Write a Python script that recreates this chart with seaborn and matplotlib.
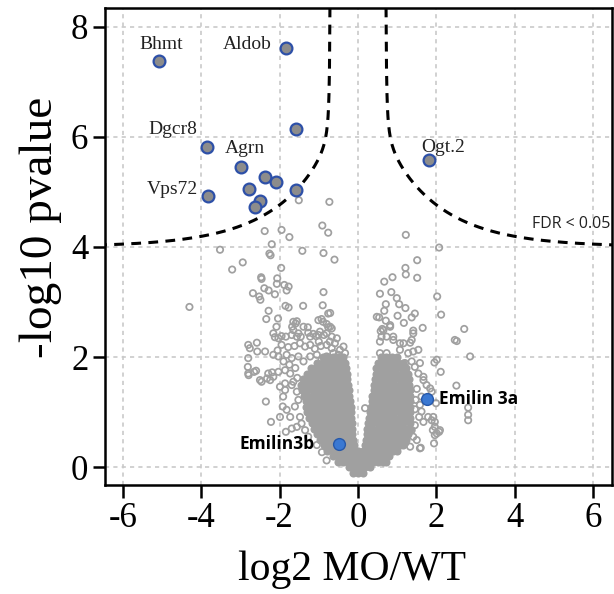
import numpy as np
import pandas as pd
import matplotlib
matplotlib.use("Agg")
import matplotlib.pyplot as plt
import seaborn as sns

# ---------------- data ----------------
# highlighted genes (gray fill, blue edge)
sig_x = [-5.07, -1.84, -1.59, -3.86, -2.98, -2.38, -2.10, -2.79, -1.59, -3.83, -2.49, -2.62, 1.82]
sig_y = [7.39, 7.61, 6.14, 5.81, 5.45, 5.28, 5.19, 5.06, 5.04, 4.93, 4.84, 4.73, 5.59]

# gene labels: text, x, y, horizontal alignment
gene_labels = ["Bhmt", "Aldob", "Dgcr8", "Agrn", "Vps72", "Ogt.2"]
gene_lab_x = [-5.03, -2.19, -4.11, -3.39, -4.08, 1.61]
gene_lab_y = [7.60, 7.60, 6.05, 5.71, 4.96, 5.72]
gene_lab_ha = ["center", "right", "right", "left", "right", "left"]

# Emilin genes (solid blue)
emilin_names = ["Emilin3b", "Emilin 3a"]
emilin_x = [-0.48, 1.76]
emilin_y = [0.42, 1.23]
emilin_lab_x = [-1.10, 2.07]
emilin_lab_y = [0.33, 1.14]
emilin_lab_ha = ["right", "left"]

# dense core of the volcano: rows of y with the x positions in each row
core_rows_y = [-0.1, 0.0, 0.1, 0.2, 0.3, 0.4, 0.5, 0.6, 0.7, 0.8, 0.9, 1.0, 1.1,
               1.2, 1.3, 1.4, 1.5, 1.6, 1.7, 1.8, 1.9, 2.0]
core_rows_x = [
    [-0.13, 0.0, 0.13],
    [-0.22, -0.09, 0.04, 0.17, 0.3],
    [-0.52, -0.39, -0.26, -0.13, 0.0, 0.13, 0.26, 0.39, 0.52, 0.65, 0.72],
    [-0.65, -0.52, -0.39, -0.26, -0.13, 0.0, 0.13, 0.26, 0.39, 0.52, 0.65, 0.8],
    [-0.78, -0.65, -0.52, -0.39, -0.26, -0.13, 0.0, 0.13, 0.26, 0.39, 0.52, 0.65, 0.78, 0.9, 1.0],
    [-0.87, -0.74, -0.61, -0.48, -0.35, -0.22, -0.1, 0.18, 0.31, 0.44, 0.57, 0.7, 0.83, 0.96, 1.08, 1.15],
    [-0.96, -0.83, -0.7, -0.57, -0.44, -0.31, -0.18, -0.12, 0.2, 0.33, 0.46, 0.59, 0.72, 0.85, 0.98, 1.1, 1.22],
    [-1.05, -0.92, -0.79, -0.66, -0.53, -0.4, -0.27, -0.15, 0.22, 0.35, 0.48, 0.61, 0.74, 0.87, 1.0, 1.13, 1.28],
    [-1.12, -0.99, -0.86, -0.73, -0.6, -0.47, -0.34, -0.21, -0.15, 0.24, 0.37, 0.5, 0.63, 0.76, 0.89, 1.02, 1.15, 1.25, 1.32],
    [-1.18, -1.05, -0.92, -0.79, -0.66, -0.53, -0.4, -0.27, -0.16, 0.25, 0.38, 0.51, 0.64, 0.77, 0.9, 1.03, 1.16, 1.32],
    [-1.24, -1.11, -0.98, -0.85, -0.72, -0.59, -0.46, -0.33, -0.2, -0.17, 0.28, 0.41, 0.54, 0.67, 0.8, 0.93, 1.06, 1.19, 1.32],
    [-1.3, -1.17, -1.04, -0.91, -0.78, -0.65, -0.52, -0.39, -0.26, -0.18, 0.3, 0.43, 0.56, 0.69, 0.82, 0.95, 1.08, 1.21, 1.32],
    [-1.32, -1.23, -1.1, -0.97, -0.84, -0.71, -0.58, -0.45, -0.32, -0.19, 0.32, 0.45, 0.58, 0.71, 0.84, 0.97, 1.1, 1.23, 1.32],
    [-1.32, -1.27, -1.14, -1.01, -0.88, -0.75, -0.62, -0.49, -0.36, -0.23, -0.2, 0.35, 0.48, 0.61, 0.74, 0.87, 1.0, 1.13, 1.26, 1.32],
    [-1.38, -1.29, -1.16, -1.03, -0.9, -0.77, -0.64, -0.51, -0.38, -0.25, -0.22, 0.37, 0.5, 0.63, 0.76, 0.89, 1.02, 1.15, 1.28, 1.32],
    [-1.44, -1.31, -1.18, -1.05, -0.92, -0.79, -0.66, -0.53, -0.4, -0.27, -0.24, 0.4, 0.53, 0.66, 0.79, 0.92, 1.05, 1.18, 1.32],
    [-1.45, -1.32, -1.19, -1.06, -0.93, -0.8, -0.67, -0.54, -0.41, -0.28, -0.26, 0.41, 0.54, 0.67, 0.8, 0.93, 1.06, 1.19, 1.3],
    [-1.4, -1.27, -1.14, -1.01, -0.88, -0.75, -0.62, -0.49, -0.36, -0.28, 0.43, 0.56, 0.69, 0.82, 0.95, 1.08, 1.21, 1.3],
    [-1.3, -1.17, -1.04, -0.91, -0.78, -0.65, -0.52, -0.39, -0.29, 0.45, 0.58, 0.71, 0.84, 0.97, 1.1, 1.2, 1.28],
    [-1.2, -1.07, -0.94, -0.81, -0.68, -0.55, -0.42, -0.3, 0.46, 0.59, 0.72, 0.85, 0.98, 1.11, 1.22],
    [-1.05, -0.92, -0.79, -0.66, -0.53, -0.4, -0.33, 0.5, 0.63, 0.76, 0.89, 1.02, 1.15],
    [-0.9, -0.77, -0.64, -0.51, -0.38, 0.58, 0.72, 0.86, 1.0],
]

# individual (non-overlapping) gray points
ring_pts = [
    (-2.38, 4.29), (-1.95, 4.31), (-1.75, 4.18), (-1.51, 4.85), (-0.73, 4.82), (-0.91, 4.39), (-0.76, 4.26),
    (-2.20, 4.05), (-3.52, 3.95), (-1.42, 3.93), (-2.26, 3.88), (-2.23, 3.85), (-0.88, 3.89), (-0.60, 3.77),
    (-2.94, 3.72), (-3.21, 3.59), (-1.96, 3.62), (-2.47, 3.45), (-2.46, 3.42), (-2.06, 3.43), (-2.07, 3.33),
    (-1.88, 3.31), (-1.77, 3.28), (-2.39, 3.25), (-2.28, 3.21), (-1.82, 3.21), (-2.68, 3.16), (-2.52, 3.10),
    (-2.49, 3.04), (-2.12, 3.14), (-0.88, 3.18), (-4.30, 2.91), (-1.85, 2.93), (-1.77, 2.90), (-1.40, 2.93),
    (-0.90, 2.94), (-2.28, 2.84), (-0.76, 2.79), (-2.34, 2.69), (-2.04, 2.70), (-1.65, 2.64), (-1.59, 2.61),
    (-1.56, 2.65), (-1.68, 2.55), (-2.08, 2.55), (-1.28, 2.54), (-1.01, 2.67), (-0.93, 2.69), (-0.89, 2.64),
    (-0.80, 2.60), (-0.76, 2.54), (-0.71, 2.80), (-0.71, 2.55),
    (-2.12, 2.36), (-2.03, 2.34), (-1.95, 2.38), (-1.84, 2.37), (-1.69, 2.40), (-1.56, 2.37), (-1.46, 2.37),
    (-1.22, 2.37), (-1.14, 2.42), (-1.07, 2.38), (-1.01, 2.40), (-0.87, 2.40), (-0.67, 2.37),
    (-1.52, 2.43), (-1.39, 2.55), (-0.97, 2.46), (-0.80, 2.43), (-0.67, 2.52), (-0.54, 2.34), (-0.37, 2.19),
    (-1.27, 2.44), (-2.16, 2.43), (-1.65, 2.49),
    (-1.48, 2.25), (-1.35, 2.19), (-1.22, 2.22), (-0.80, 2.22), (-0.67, 2.16), (-0.59, 2.25), (-0.46, 2.13),
    (-0.33, 2.07),
    (-2.16, 2.04), (-2.03, 2.01), (-1.82, 2.04), (-1.69, 1.98), (-1.52, 2.01), (-1.39, 1.92), (-1.22, 2.01),
    (-1.05, 2.04), (-0.93, 1.95), (-0.80, 2.01), (-0.63, 2.07), (-0.50, 2.04), (-0.38, 1.95),
    (-1.95, 2.22), (-1.78, 2.18), (-1.62, 2.20), (-2.05, 2.12), (-1.90, 1.92), (-1.75, 1.86), (-1.60, 1.80),
    (-1.55, 1.62), (-1.65, 1.55), (-1.10, 2.15), (-0.95, 2.20), (-1.00, 2.28), (-0.72, 2.28),
    (-2.58, 2.26), (-2.37, 2.10), (-2.80, 2.22), (-2.76, 2.16), (-2.80, 1.98), (-2.81, 1.82), (-2.79, 1.67),
    (-2.60, 1.75), (-2.46, 1.55), (-2.35, 1.19), (-2.22, 0.82), (-1.99, 0.91), (-1.84, 0.64), (-2.57, 2.10),
    (-2.65, 1.73), (-2.80, 1.70), (-1.69, 0.70), (-1.56, 0.73), (-1.92, 1.10), (-1.82, 1.04), (-1.73, 0.91),
    (-2.24, 1.58), (-2.16, 1.64), (-2.29, 1.70), (-1.99, 1.46), (-1.86, 1.40), (-1.91, 1.28), (-2.50, 1.58),
    (-2.32, 1.61), (-2.19, 1.72), (-2.03, 1.73), (-1.86, 1.76), (-1.73, 1.70), (-1.86, 1.52), (-1.69, 1.49),
    (-1.56, 1.37), (-1.52, 1.22), (-1.61, 1.10), (-1.48, 0.91), (-1.44, 0.79), (-1.35, 0.67), (-1.27, 0.55),
    (-0.92, 0.27), (-1.05, 0.40), (-0.80, 0.12),
    (1.22, 4.22), (2.07, 3.99), (1.51, 3.76), (1.21, 3.62), (1.22, 3.50), (0.88, 3.45), (0.67, 3.37),
    (1.51, 3.44), (0.56, 3.15), (0.85, 3.18), (0.99, 3.07), (2.02, 3.10), (0.71, 2.96), (1.05, 2.96),
    (1.21, 2.89), (0.67, 2.84), (1.45, 2.79), (1.37, 2.72), (1.01, 2.75), (2.12, 2.77), (0.48, 2.73),
    (0.54, 2.72), (0.71, 2.66), (1.17, 2.62), (0.82, 2.55), (0.62, 2.51), (0.58, 2.47), (1.41, 2.48),
    (1.65, 2.53), (2.71, 2.51), (2.47, 2.31), (2.52, 2.29), (2.86, 2.01), (1.95, 1.90), (2.01, 1.95),
    (2.11, 1.73), (2.51, 1.48), (2.81, 1.08), (2.81, 0.95), (2.81, 0.85), (1.99, 1.16), (1.92, 0.91),
    (1.96, 0.73), (2.07, 0.64), (1.96, 0.58), (1.60, 0.35), (0.18, 1.07),
    (0.90, 2.37), (1.16, 2.25), (1.33, 2.26), (1.07, 2.13), (1.28, 2.07), (1.41, 2.10), (1.54, 2.13),
    (0.56, 2.07), (0.73, 2.07), (0.82, 1.98), (0.65, 1.89), (0.94, 1.89), (1.20, 1.89), (1.37, 1.92),
    (1.58, 1.89), (1.67, 1.58), (1.75, 1.49), (1.84, 1.43), (1.88, 1.37), (1.62, 1.28), (1.58, 1.13),
    (1.62, 1.01), (1.56, 0.91), (1.67, 0.82), (1.79, 0.91), (1.88, 0.85), (1.96, 0.82), (1.91, 0.67),
    (2.01, 0.61), (2.09, 0.67), (1.94, 0.43), (1.41, 0.55), (1.50, 0.49), (1.58, 0.34), (1.33, 0.37),
    (1.20, 0.43), (1.45, 0.76), (1.37, 0.67), (1.54, 1.70), (1.45, 1.82), (1.67, 1.64),
    (0.82, 2.58), (0.65, 2.49), (0.60, 2.37), (1.41, 2.43), (1.37, 2.31), (1.07, 2.25), (0.90, 2.31),
    (0.73, 2.37), (0.56, 2.28), (1.47, 1.22), (1.50, 1.42), (1.45, 1.05),
]

x_ticks = [-6, -4, -2, 0, 2, 4, 6]
x_tick_labels = ["-6", "-4", "-2", "0", "2", "4", "6"]
y_ticks = [0, 2, 4, 6, 8]
y_tick_labels = ["0", "2", "4", "6", "8"]

# ---------------- build frames ----------------
core_df = pd.DataFrame({
    "log2fc": [x for row in core_rows_x for x in row],
    "nlp": [y for y, row in zip(core_rows_y, core_rows_x) for _ in row],
})
ring_df = pd.DataFrame(ring_pts, columns=["log2fc", "nlp"])
sig_df = pd.DataFrame({"log2fc": sig_x, "nlp": sig_y})
emi_df = pd.DataFrame({"log2fc": emilin_x, "nlp": emilin_y})

# ---------------- plot ----------------
sns.set_style("white")
plt.rcParams["font.family"] = ["Liberation Serif", "DejaVu Serif"]

fig = plt.figure(figsize=(6.14, 5.94), dpi=100)
ax = fig.add_axes([105 / 614, (594 - 485) / 594, 507 / 614, 477 / 594])

ax.set_axisbelow(True)
ax.grid(True, color="#c9c9c9", linestyle=(0, (2.5, 2.5)), linewidth=1.2)

gray = "#a0a0a0"
sns.scatterplot(data=core_df, x="log2fc", y="nlp", color=gray, s=34,
                linewidth=0, ax=ax, zorder=2)
sns.scatterplot(data=ring_df, x="log2fc", y="nlp", marker="o", s=21,
                facecolors="none", edgecolor=gray, linewidth=1.25, ax=ax, zorder=3)

# FDR threshold curve
xr = np.linspace(0.7157, 6.7, 500)
yr = 4.0 + 2.98 * np.exp(-0.7 * xr) + 0.04 / (xr - 0.7)
ax.plot(xr, yr, color="black", lw=2.2, ls=(0, (3.2, 2.4)), zorder=4)
ax.plot(-xr, yr, color="black", lw=2.2, ls=(0, (3.2, 2.4)), zorder=4)

sns.scatterplot(data=sig_df, x="log2fc", y="nlp", color="#8c8c8c", s=72,
                edgecolor="#2d50a8", linewidth=1.6, ax=ax, zorder=5)
sns.scatterplot(data=emi_df, x="log2fc", y="nlp", color="#3a78d2", s=72,
                edgecolor="#2658aa", linewidth=1.0, ax=ax, zorder=5)

for t, x, y, ha in zip(gene_labels, gene_lab_x, gene_lab_y, gene_lab_ha):
    ax.text(x, y, t, ha=ha, va="baseline", fontsize=14,
            family=["Liberation Serif", "DejaVu Serif"], color="#222222", zorder=6)
for t, x, y, ha in zip(emilin_names, emilin_lab_x, emilin_lab_y, emilin_lab_ha):
    ax.text(x, y, t, ha=ha, va="baseline", fontsize=12.5, fontweight="bold",
            family=["Open Sans", "DejaVu Sans"], color="black", zorder=6)
ax.text(4.43, 4.34, "FDR < 0.05", ha="left", va="baseline", fontsize=11.5,
        family=["Open Sans", "DejaVu Sans"], color="#222222", zorder=6, clip_on=True)

ax.set_xlim(-6.454, 6.48)
ax.set_ylim(-0.327, 8.345)
ax.set_xticks(x_ticks)
ax.set_xticklabels(x_tick_labels)
ax.set_yticks(y_ticks)
ax.set_yticklabels(y_tick_labels)
ax.tick_params(axis="both", direction="out", length=9, width=1.8, labelsize=25,
               pad=3, color="black", labelcolor="black", left=True, bottom=True)
for sp in ax.spines.values():
    sp.set_visible(True)
    sp.set_color("black")
    sp.set_linewidth(1.8)

ax.set_xlabel("log2 MO/WT", fontsize=30, color="black")
ax.set_ylabel("-log10 pvalue", fontsize=34, color="black")
ax.xaxis.set_label_coords(0.488, -0.138)
ax.yaxis.set_label_coords(-0.085, 0.54)
ax.xaxis.label.set_va("top")

fig.savefig("out.png", dpi=100)
